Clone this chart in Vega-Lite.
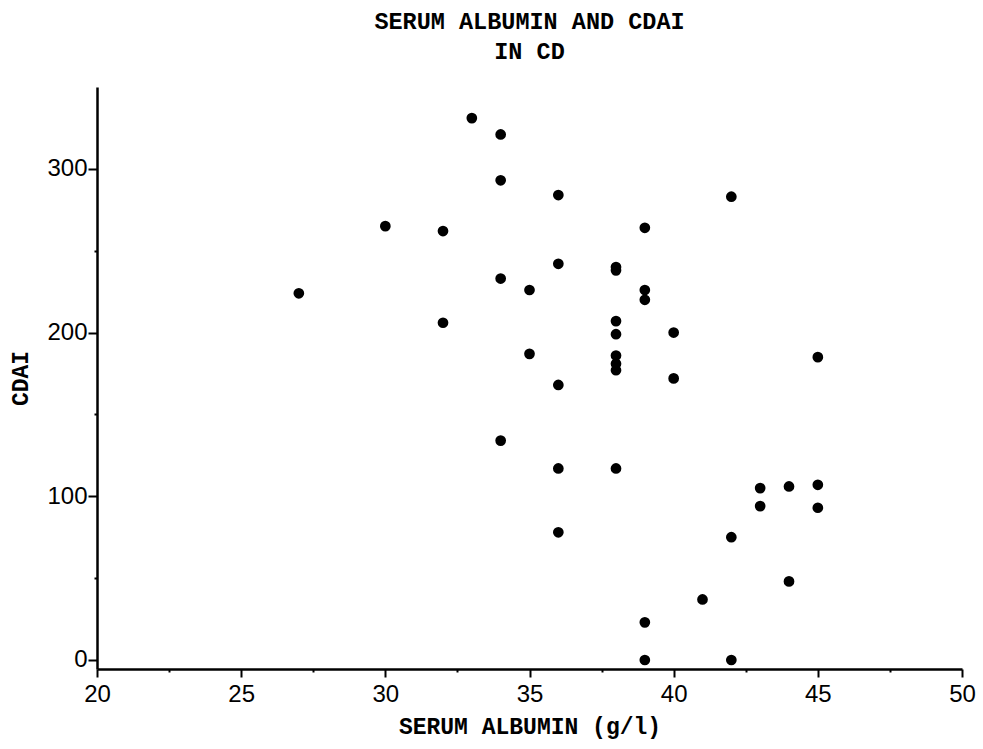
{
  "$schema": "https://vega.github.io/schema/vega-lite/v6.json",
  "width": 865,
  "height": 582,
  "autosize": {"type": "none"},
  "padding": {"left": 97, "top": 87, "right": 21, "bottom": 80},
  "background": "white",
  "title": {
    "text": ["SERUM ALBUMIN AND CDAI", "IN CD"],
    "anchor": "middle",
    "frame": "group",
    "font": "Liberation Mono",
    "fontWeight": "bold",
    "fontSize": 23.5,
    "lineHeight": 30,
    "color": "black",
    "offset": 24
  },
  "data": {
    "values": [
      {"albumin": 27, "cdai": 224},
      {"albumin": 30, "cdai": 265},
      {"albumin": 32, "cdai": 262},
      {"albumin": 32, "cdai": 206},
      {"albumin": 33, "cdai": 331},
      {"albumin": 34, "cdai": 321},
      {"albumin": 34, "cdai": 293},
      {"albumin": 34, "cdai": 233},
      {"albumin": 34, "cdai": 134},
      {"albumin": 35, "cdai": 226},
      {"albumin": 35, "cdai": 187},
      {"albumin": 36, "cdai": 284},
      {"albumin": 36, "cdai": 242},
      {"albumin": 36, "cdai": 168},
      {"albumin": 36, "cdai": 117},
      {"albumin": 36, "cdai": 78},
      {"albumin": 38, "cdai": 240},
      {"albumin": 38, "cdai": 238},
      {"albumin": 38, "cdai": 207},
      {"albumin": 38, "cdai": 199},
      {"albumin": 38, "cdai": 186},
      {"albumin": 38, "cdai": 181},
      {"albumin": 38, "cdai": 177},
      {"albumin": 38, "cdai": 117},
      {"albumin": 39, "cdai": 264},
      {"albumin": 39, "cdai": 226},
      {"albumin": 39, "cdai": 220},
      {"albumin": 39, "cdai": 23},
      {"albumin": 39, "cdai": 0},
      {"albumin": 40, "cdai": 200},
      {"albumin": 40, "cdai": 172},
      {"albumin": 41, "cdai": 37},
      {"albumin": 42, "cdai": 283},
      {"albumin": 42, "cdai": 75},
      {"albumin": 42, "cdai": 0},
      {"albumin": 43, "cdai": 105},
      {"albumin": 43, "cdai": 94},
      {"albumin": 44, "cdai": 106},
      {"albumin": 44, "cdai": 48},
      {"albumin": 45, "cdai": 185},
      {"albumin": 45, "cdai": 107},
      {"albumin": 45, "cdai": 93}
    ]
  },
  "mark": {"type": "circle", "size": 115, "color": "black", "opacity": 1},
  "encoding": {
    "x": {
      "field": "albumin",
      "type": "quantitative",
      "scale": {"domain": [20, 50], "nice": false, "zero": false},
      "axis": {
        "title": "SERUM ALBUMIN (g/l)",
        "values": [20, 22.5, 25, 27.5, 30, 32.5, 35, 37.5, 40, 42.5, 45, 47.5, 50],
        "labelExpr": "datum.value % 5 === 0 ? datum.label : ''",
        "tickSize": {"condition": {"test": "datum.value % 5 !== 0", "value": 3}, "value": 8},
        "grid": false,
        "domainColor": "black",
        "domainWidth": 2.5,
        "tickColor": "black",
        "tickWidth": 2,
        "labelFont": "Liberation Sans",
        "labelFontSize": 24,
        "labelColor": "black",
        "labelPadding": 5,
        "labelFlush": false,
        "labelOverlap": false,
        "titleFont": "Liberation Mono",
        "titleFontWeight": "bold",
        "titleFontSize": 23,
        "titleColor": "black",
        "titleBaseline": "middle",
        "titleY": 57
      }
    },
    "y": {
      "field": "cdai",
      "type": "quantitative",
      "scale": {"domain": [-5.5, 350], "nice": false, "zero": false},
      "axis": {
        "title": "CDAI",
        "values": [0, 50, 100, 150, 200, 250, 300],
        "labelExpr": "datum.value % 100 === 0 ? datum.label : ''",
        "tickSize": {"condition": {"test": "datum.value % 100 !== 0", "value": 3}, "value": 9},
        "grid": false,
        "domainColor": "black",
        "domainWidth": 2.5,
        "tickColor": "black",
        "tickWidth": 2,
        "labelFont": "Liberation Sans",
        "labelFontSize": 24,
        "labelColor": "black",
        "labelPadding": 1,
        "labelFlush": false,
        "labelOverlap": false,
        "titleFont": "Liberation Mono",
        "titleFontWeight": "bold",
        "titleFontSize": 23,
        "titleColor": "black",
        "titleAngle": -90,
        "titleAlign": "center",
        "titleBaseline": "middle",
        "titleX": -77,
        "titleY": 291
      }
    }
  },
  "config": {"view": {"stroke": null}}
}
